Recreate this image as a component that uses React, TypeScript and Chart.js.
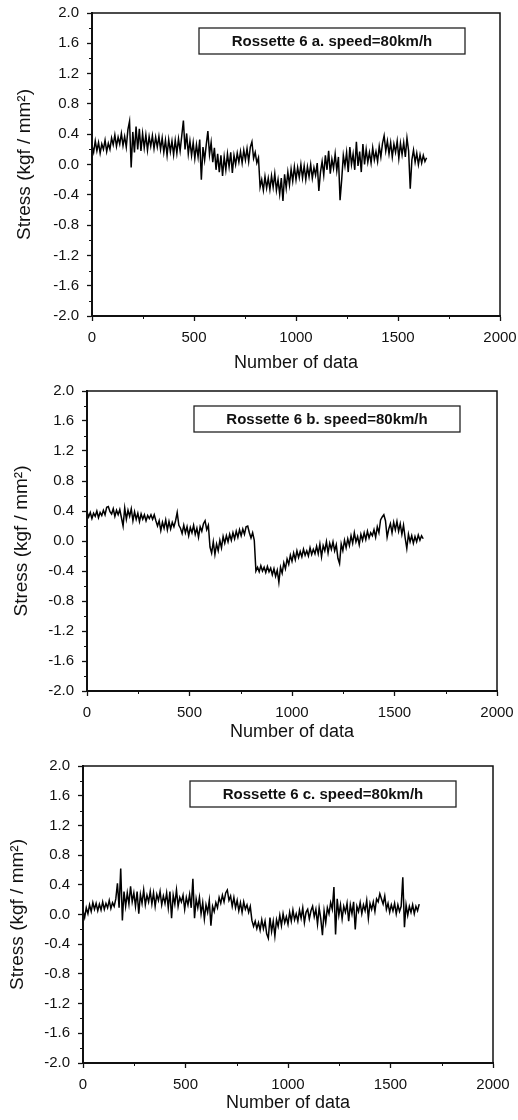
import React, { useEffect, useRef } from "react";
import { Chart, registerables } from "chart.js";

Chart.register(...registerables);

// ---- data ----
const STEP = 8; // sample spacing in "Number of data" units
const X_TICKS = [0, 500, 1000, 1500, 2000];
const Y_TICKS = [-2.0, -1.6, -1.2, -0.8, -0.4, 0.0, 0.4, 0.8, 1.2, 1.6, 2.0];
const X_MINOR = [250, 750, 1250, 1750];
const Y_MINOR = [-1.8, -1.4, -1.0, -0.6, -0.2, 0.2, 0.6, 1.0, 1.4, 1.8];

const LABEL_A = "Rossette 6 a. speed=80km/h";
const LABEL_B = "Rossette 6 b. speed=80km/h";
const LABEL_C = "Rossette 6 c. speed=80km/h";

const X_TITLE = "Number of data";
const Y_TITLE = "Stress (kgf / mm\u00B2)";

const stressA = [
  0.25, 0.16, 0.31, 0.18, 0.29, 0.15, 0.27, 0.20, 0.32, 0.17,
  0.28, 0.20, 0.35, 0.26, 0.39, 0.24, 0.36, 0.27, 0.41, 0.25,
  0.37, 0.23, 0.46, 0.57, -0.04, 0.43, 0.16, 0.50, 0.20, 0.47,
  0.18, 0.41, 0.22, 0.39, 0.19, 0.37, 0.24, 0.38, 0.21, 0.36,
  0.23, 0.37, 0.20, 0.35, 0.16, 0.32, 0.12, 0.33, 0.17, 0.31,
  0.13, 0.32, 0.15, 0.34, 0.18, 0.38, 0.58, 0.20, 0.41, 0.14,
  0.31, 0.12, 0.29, 0.08, 0.26, 0.10, 0.33, -0.20, 0.23, 0.06,
  0.26, 0.44, 0.13, 0.29, 0.03, 0.22, -0.07, 0.14, -0.10, 0.12,
  -0.15, 0.10, -0.07, 0.14, -0.03, 0.16, -0.11, 0.12, 0.00, 0.15,
  0.03, 0.17, 0.02, 0.19, 0.06, 0.21, 0.04, 0.23, 0.30, 0.08,
  0.16, 0.02, 0.09, -0.30, -0.20, -0.34, -0.16, -0.31, -0.18, -0.33,
  -0.15, -0.30, -0.12, -0.34, -0.20, -0.39, -0.18, -0.48, -0.13, -0.31,
  -0.10, -0.27, -0.06, -0.22, -0.03, -0.20, -0.04, -0.17, 0.00, -0.18,
  -0.02, -0.20, -0.03, -0.16, 0.00, -0.18, -0.04, -0.14, 0.02, -0.35,
  -0.10, 0.04, -0.14, 0.12, -0.07, 0.18, -0.12, 0.07, -0.05, 0.14,
  -0.08, 0.10, -0.47, -0.20, 0.12, -0.02, 0.16, -0.10, 0.23, 0.00,
  0.14, -0.07, 0.30, -0.02, 0.17, -0.10, 0.27, 0.00, 0.20, 0.03,
  0.16, 0.02, 0.22, 0.06, 0.17, 0.04, 0.24, 0.10, 0.28, 0.38,
  0.18, 0.31, 0.14, 0.29, 0.10, 0.27, 0.16, 0.31, 0.08, 0.28,
  0.13, 0.29, 0.10, 0.35, 0.18, -0.32, 0.06, 0.19, 0.03, 0.15,
  0.00, 0.13, 0.02, 0.12, 0.04, 0.09,
];

const stressB = [
  0.39, 0.32, 0.38, 0.30, 0.37, 0.33, 0.40, 0.31, 0.38, 0.34,
  0.41, 0.35, 0.45, 0.46, 0.39, 0.36, 0.43, 0.33, 0.41, 0.35,
  0.42, 0.31, 0.20, 0.44, 0.29, 0.41, 0.33, 0.43, 0.27, 0.39,
  0.29, 0.37, 0.26, 0.36, 0.29, 0.35, 0.27, 0.34, 0.30, 0.35,
  0.29, 0.35, 0.27, 0.20, 0.27, 0.14, 0.25, 0.17, 0.28, 0.15,
  0.26, 0.16, 0.25, 0.19, 0.27, 0.38, 0.21, 0.17, 0.10, 0.21,
  0.11, 0.19, 0.07, 0.18, 0.11, 0.21, 0.09, 0.17, 0.05, 0.19,
  0.13, 0.23, 0.27, 0.15, 0.21, -0.08, -0.16, -0.01, -0.18, -0.04,
  -0.13, 0.01, -0.09, 0.06, -0.03, 0.07, -0.01, 0.09, 0.01, 0.11,
  0.03, 0.13, 0.05, 0.15, 0.07, 0.16, 0.09, 0.19, 0.20, 0.11,
  0.04, 0.11, 0.01, -0.40, -0.35, -0.41, -0.33, -0.40, -0.35, -0.42,
  -0.34, -0.41, -0.36, -0.45, -0.37, -0.47, -0.39, -0.55, -0.35, -0.43,
  -0.29, -0.37, -0.24, -0.31, -0.19, -0.27, -0.16, -0.25, -0.13, -0.22,
  -0.14, -0.21, -0.11, -0.19, -0.13, -0.20, -0.09, -0.18, -0.11, -0.17,
  -0.07, -0.17, -0.04, -0.21, -0.06, -0.13, -0.01, -0.16, -0.03, -0.11,
  -0.01, -0.13, -0.05, -0.23, -0.30, -0.04, -0.13, 0.01, -0.09, 0.03,
  -0.06, 0.07, -0.03, 0.11, -0.01, 0.06, -0.05, 0.09, 0.01, 0.11,
  0.02, 0.13, 0.04, 0.11, 0.07, 0.15, 0.05, 0.19, 0.11, 0.28,
  0.32, 0.35, 0.27, 0.05, 0.16, 0.23, 0.11, 0.25, 0.15, 0.26,
  0.13, 0.23, 0.09, 0.21, 0.04, -0.10, 0.09, -0.01, 0.07, -0.03,
  0.06, -0.01, 0.08, 0.01, 0.07, 0.03,
];

const stressC = [
  0.05, -0.04, 0.09, 0.01, 0.13, 0.04, 0.16, 0.07, 0.15, 0.05,
  0.14, 0.06, 0.17, 0.07, 0.15, 0.09, 0.19, 0.08, 0.16, 0.11,
  0.21, 0.42, 0.09, 0.62, -0.08, 0.31, 0.11, 0.29, 0.14, 0.38,
  0.17, 0.29, 0.11, 0.31, 0.01, 0.27, 0.15, 0.33, 0.13, 0.26,
  0.17, 0.31, 0.14, 0.29, 0.11, 0.27, 0.19, 0.31, 0.13, 0.25,
  0.15, 0.29, 0.09, 0.31, -0.05, 0.26, 0.14, 0.33, 0.11, 0.23,
  0.17, 0.26, 0.07, 0.23, 0.13, 0.27, 0.09, 0.48, -0.05, 0.21,
  0.09, 0.23, 0.01, 0.16, -0.06, 0.13, 0.03, 0.19, -0.15, 0.11,
  0.04, 0.16, 0.09, 0.23, 0.15, 0.26, 0.17, 0.29, 0.33, 0.19,
  0.25, 0.11, 0.23, 0.09, 0.19, 0.05, 0.16, 0.03, 0.17, 0.07,
  0.13, 0.03, 0.11, -0.08, -0.16, -0.09, -0.19, -0.11, -0.21, -0.07,
  -0.19, -0.09, -0.26, -0.32, -0.04, -0.23, -0.09, -0.29, -0.07, -0.16,
  -0.01, -0.15, 0.01, -0.11, -0.03, -0.13, 0.03, -0.09, 0.06, -0.07,
  0.01, -0.09, 0.06, -0.05, 0.09, -0.11, 0.03, 0.07, -0.06, 0.05,
  0.11, -0.03, 0.07, -0.13, 0.09, -0.06, -0.28, 0.05, -0.11, 0.09,
  0.01, 0.16, 0.07, 0.37, -0.27, 0.21, -0.01, 0.13, -0.06, 0.11,
  0.03, 0.15, -0.09, 0.13, 0.01, 0.17, -0.20, 0.11, 0.04, 0.16,
  0.01, 0.13, 0.05, 0.19, -0.05, 0.15, 0.07, 0.17, 0.04, 0.21,
  0.17, 0.28, 0.21, 0.14, 0.25, 0.07, 0.15, 0.03, 0.13, 0.05,
  0.15, 0.01, 0.13, 0.04, 0.11, 0.50, -0.17, 0.13, -0.01, 0.11,
  0.03, 0.13, 0.01, 0.11, 0.05, 0.14,
];

// ---- layout / style ----
const FONT = "'Liberation Sans', Arial, Helvetica, sans-serif";
const INK = "#111";

type Panel = {
  label: string;
  values: number[];
  top: number;
  height: number;
  padTop: number;
  padRight: number;
  yWidth: number;
  xHeight: number;
  yTitlePad: number;
  xTitlePad: number;
};

const PANELS: Panel[] = [
  { label: LABEL_A, values: stressA, top: 0, height: 376, padTop: 13, padRight: 18, yWidth: 92, xHeight: 60, yTitlePad: 13, xTitlePad: 2 },
  { label: LABEL_B, values: stressB, top: 376, height: 369, padTop: 15, padRight: 21, yWidth: 87, xHeight: 54, yTitlePad: 10, xTitlePad: 2 },
  { label: LABEL_C, values: stressC, top: 745, height: 375, padTop: 21, padRight: 25, yWidth: 83, xHeight: 57, yTitlePad: 6, xTitlePad: 6 },
];

const framePlugin = {
  id: "frameAndMinor",
  afterDraw(chart: any) {
    const { ctx, chartArea } = chart;
    const { left, top, right, bottom } = chartArea;
    const xs = chart.scales.x;
    const ys = chart.scales.y;
    ctx.save();
    ctx.strokeStyle = INK;
    ctx.lineWidth = 1.5;
    ctx.strokeRect(left, top, right - left, bottom - top);
    ctx.lineWidth = 1;
    ctx.beginPath();
    Y_MINOR.forEach((v) => {
      const py = Math.round(ys.getPixelForValue(v)) + 0.5;
      ctx.moveTo(left - 3, py);
      ctx.lineTo(left, py);
    });
    X_MINOR.forEach((v) => {
      const px = Math.round(xs.getPixelForValue(v)) + 0.5;
      ctx.moveTo(px, bottom);
      ctx.lineTo(px, bottom + 3);
    });
    ctx.stroke();

    // label box
    const label = chart.data.datasets[0].label;
    const bx = left + 107;
    const by = top + 15;
    const bw = 266;
    const bh = 26;
    ctx.lineWidth = 1.3;
    ctx.strokeStyle = "#222";
    ctx.strokeRect(bx, by, bw, bh);
    ctx.fillStyle = INK;
    ctx.font = `bold 15px ${FONT}`;
    ctx.textAlign = "center";
    ctx.textBaseline = "middle";
    ctx.fillText(label, bx + bw / 2, by + bh / 2 + 1);
    ctx.restore();
  },
};

function PanelChart({ p }: { p: Panel }) {
  const ref = useRef<HTMLCanvasElement | null>(null);
  useEffect(() => {
    if (!ref.current) return;
    const points = p.values.map((v, i) => ({ x: i * STEP, y: v }));
    const chart = new Chart(ref.current, {
      type: "line",
      data: {
        datasets: [
          {
            label: p.label,
            data: points,
            borderColor: "#000",
            borderWidth: 1.5,
            pointRadius: 0,
            tension: 0,
            fill: false,
          },
        ],
      },
      options: {
        animation: false,
        responsive: false,
        events: [],
        layout: { padding: { top: p.padTop, right: p.padRight, left: 0, bottom: 0 } },
        plugins: { legend: { display: false }, tooltip: { enabled: false }, title: { display: false } },
        scales: {
          x: {
            type: "linear",
            min: 0,
            max: 2000,
            afterBuildTicks: (s: any) => {
              s.ticks = X_TICKS.map((v) => ({ value: v }));
            },
            afterFit: (s: any) => {
              s.height = p.xHeight;
              s.paddingLeft = 0;
              s.paddingRight = 0;
            },
            grid: { drawOnChartArea: false, drawTicks: true, tickLength: 5, tickColor: INK, tickWidth: 1.3 },
            border: { display: true, color: INK, width: 2 },
            ticks: {
              color: INK,
              font: { family: FONT, size: 15 },
              padding: 8,
              maxRotation: 0,
              autoSkip: false,
              callback: (v: any) => String(v),
            },
            title: {
              display: true,
              text: X_TITLE,
              color: INK,
              font: { family: FONT, size: 18 },
              padding: { top: 0, bottom: p.xTitlePad },
            },
          },
          y: {
            type: "linear",
            min: -2,
            max: 2,
            afterBuildTicks: (s: any) => {
              s.ticks = Y_TICKS.map((v) => ({ value: v }));
            },
            afterFit: (s: any) => {
              s.width = p.yWidth;
              s.paddingTop = 0;
              s.paddingBottom = 0;
            },
            grid: { drawOnChartArea: false, drawTicks: true, tickLength: 5, tickColor: INK, tickWidth: 1.3 },
            border: { display: true, color: INK, width: 2 },
            ticks: {
              color: INK,
              font: { family: FONT, size: 15 },
              padding: 8,
              autoSkip: false,
              callback: (v: any) => (Math.abs(v) < 1e-9 ? "0.0" : Number(v).toFixed(1)),
            },
            title: {
              display: true,
              text: Y_TITLE,
              color: INK,
              font: { family: FONT, size: 19 },
              padding: { top: p.yTitlePad, bottom: 0 },
            },
          },
        },
      },
      plugins: [framePlugin],
    } as any);
    return () => chart.destroy();
  }, [p]);
  return (
    <canvas
      ref={ref}
      width={518}
      height={p.height}
      style={{ position: "absolute", left: 0, top: p.top, width: 518, height: p.height }}
    />
  );
}

export default function App() {
  return (
    <div style={{ position: "absolute", left: 0, top: 0, width: 518, height: 1120, background: "#fff" }}>
      {PANELS.map((p, i) => (
        <PanelChart key={i} p={p} />
      ))}
    </div>
  );
}
